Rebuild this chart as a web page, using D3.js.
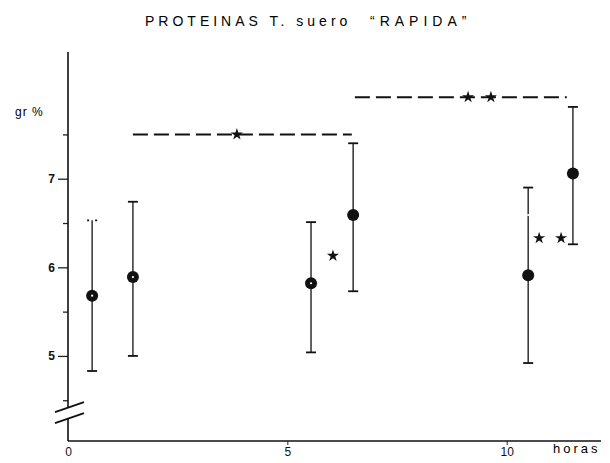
<!DOCTYPE html>
<html>
<head>
<meta charset="utf-8">
<script src="https://cdn.jsdelivr.net/npm/d3@7"></script>
<style>
  body { margin: 0; background: white; }
  svg { font-family: "Liberation Sans", Arial, sans-serif; }
</style>
</head>
<body>
<div id="chart"></div>
<script>
// hours of each sample, mean and range (gr %)
var hours = [0.55, 1.48, 5.54, 6.5, 10.49, 11.51]
var means = [5.68, 5.89, 5.82, 6.59, 5.91, 7.06]
var upper = [6.53, 6.74, 6.51, 7.40, 6.90, 7.81]
var lower = [4.83, 5.00, 5.04, 5.73, 4.92, 6.26]
var dottedCap = [true, false, false, false, false, false]
var whiteDot = [true, true, true, false, true, false]

// dashed significance lines: start, end, level
var sigStart = [1.48, 6.54]
var sigEnd = [6.47, 11.37]
var sigLevel = [7.5, 7.92]

// stars
var starX = [3.85, 9.12, 9.64, 6.04, 10.74, 11.24]
var starY = [7.5, 7.92, 7.92, 6.13, 6.33, 6.33]

var yMajor = [5, 6, 7]
var yMinor = [4.5, 5.5, 6.5, 7.5]
var xTicks = [0, 5, 10]

var svg = d3.select("#chart").append("svg")
    .attr("width", 610)
    .attr("height", 463)

var x = d3.scaleLinear().domain([0, 12.15]).range([68, 601])
var y = d3.scaleLinear().domain([4.04, 8.43]).range([441, 52])

// title
var title = svg.append("text")
    .attr("x", 145).attr("y", 26)
    .style("font-size", "14px")
    .style("letter-spacing", "4px")
title.append("tspan").text("PROTEINAS T. suero")
title.append("tspan").attr("x", 370).style("letter-spacing", "5px").text("\u201CRAPIDA\u201D")

// y axis, major and minor ticks
var yAxisG = svg.append("g").attr("transform", "translate(" + x(0) + ",0)")
yAxisG.call(d3.axisLeft(y).tickValues(yMajor).tickSize(10).tickPadding(3).tickFormat(d3.format("d")))
yAxisG.append("g").call(d3.axisLeft(y).tickValues(yMinor).tickSize(5).tickFormat(""))
yAxisG.selectAll(".domain").remove()
yAxisG.selectAll("line").attr("stroke", "#222").attr("stroke-width", 1.3)
yAxisG.selectAll("text").style("font-size", "12px").style("font-weight", "bold").attr("fill", "#111")

// y axis line with break
var breakTop = 4.42, breakBottom = 4.29
svg.append("line")
    .attr("x1", x(0)).attr("x2", x(0))
    .attr("y1", y(8.43)).attr("y2", y(breakTop))
    .attr("stroke", "#111").attr("stroke-width", 1.6)
svg.append("line")
    .attr("x1", x(0)).attr("x2", x(0))
    .attr("y1", y(breakBottom)).attr("y2", y(4.04))
    .attr("stroke", "#111").attr("stroke-width", 1.6)
// break slashes
;[0, 1].forEach(function(i) {
    var yc = (y(breakTop) + y(breakBottom)) / 2 + (i == 0 ? -6 : 5)
    svg.append("line")
        .attr("x1", x(0) - 13).attr("y1", yc + 5)
        .attr("x2", x(0) + 16).attr("y2", yc - 5)
        .attr("stroke", "#111").attr("stroke-width", 1.8)
})

svg.append("text")
    .attr("x", 15).attr("y", 116)
    .style("font-size", "12px")
    .style("letter-spacing", "1px")
    .text("gr %")

// x axis
var xAxisG = svg.append("g").attr("transform", "translate(0," + y(4.04) + ")")
xAxisG.call(d3.axisBottom(x).tickValues(xTicks).tickSize(4).tickPadding(2).tickFormat(d3.format("d")))
xAxisG.select(".domain").attr("stroke", "#111").attr("stroke-width", 1.6)
    .attr("d", "M" + x(0) + ",0H" + x(12.15))
xAxisG.selectAll("line").attr("stroke", "#222")
xAxisG.selectAll("text").style("font-size", "12px").attr("fill", "#111")
xAxisG.selectAll(".tick").filter(function(d) { return d == 0 }).select("line").remove()

svg.append("text")
    .attr("x", 553).attr("y", 453)
    .style("font-size", "13px")
    .style("letter-spacing", "3px")
    .text("horas")

// dashed lines
svg.selectAll("line.sig")
    .data(sigLevel)
    .enter()
    .append("line")
    .attr("class", "sig")
    .attr("x1", function(d, i) { return x(sigStart[i]) })
    .attr("x2", function(d, i) { return x(sigEnd[i]) })
    .attr("y1", function(d) { return y(d) })
    .attr("y2", function(d) { return y(d) })
    .attr("stroke", "#111")
    .attr("stroke-width", 2)
    .attr("stroke-dasharray", "15,6")

// error bars
var points = svg.selectAll("g.pt")
    .data(hours)
    .enter()
    .append("g")
    .attr("class", "pt")

points.append("line")
    .attr("x1", function(d) { return x(d) })
    .attr("x2", function(d) { return x(d) })
    .attr("y1", function(d, i) { return y(upper[i]) })
    .attr("y2", function(d, i) { return y(lower[i]) })
    .attr("stroke", "#222")
    .attr("stroke-width", 1.4)

points.append("line")
    .attr("x1", function(d) { return x(d) - 5 })
    .attr("x2", function(d) { return x(d) + 5 })
    .attr("y1", function(d, i) { return y(upper[i]) })
    .attr("y2", function(d, i) { return y(upper[i]) })
    .attr("stroke", "#111")
    .attr("stroke-width", 1.8)
    .attr("stroke-dasharray", function(d, i) { return dottedCap[i] ? "2,6,2" : null })

points.append("line")
    .attr("x1", function(d) { return x(d) - 5 })
    .attr("x2", function(d) { return x(d) + 5 })
    .attr("y1", function(d, i) { return y(lower[i]) })
    .attr("y2", function(d, i) { return y(lower[i]) })
    .attr("stroke", "#111")
    .attr("stroke-width", 1.8)

points.append("circle")
    .attr("cx", function(d) { return x(d) })
    .attr("cy", function(d, i) { return y(means[i]) })
    .attr("r", 6)
    .attr("fill", "#111")

points.filter(function(d, i) { return whiteDot[i] })
    .append("circle")
    .attr("cx", function(d) { return x(d) })
    .attr("cy", function(d, i) { return y(means[i]) })
    .attr("r", 1.1)
    .attr("fill", "white")

// stars
svg.selectAll("path.star")
    .data(starX)
    .enter()
    .append("path")
    .attr("class", "star")
    .attr("d", d3.symbol().type(d3.symbolStar).size(45))
    .attr("transform", function(d, i) { return "translate(" + x(d) + "," + y(starY[i]) + ")" })
    .attr("fill", "#111")
</script>
</body>
</html>
